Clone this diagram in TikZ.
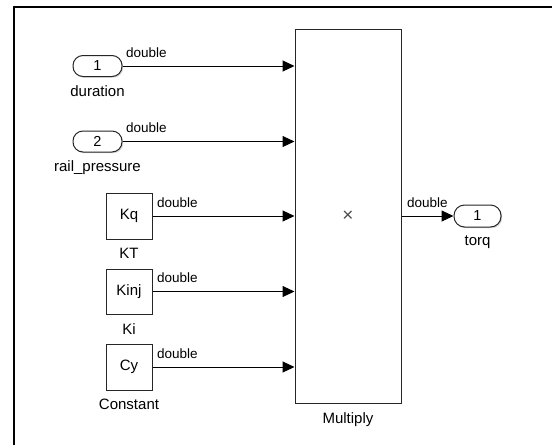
\documentclass[tikz,border=0pt]{standalone}
\usepackage{fontspec}
\setmainfont{Liberation Sans}
\usetikzlibrary{arrows.meta,shadows}
\begin{document}
\begin{tikzpicture}[x=1pt,y=-1pt,
  blk/.style={draw=black!85, line width=1pt, fill=white, drop shadow={shadow xshift=1.2pt, shadow yshift=-1.2pt, opacity=0.35}, inner sep=0pt},
  port/.style={blk, rounded corners=10pt, minimum width=49pt, minimum height=21pt, font=\fontsize{14.5}{16}\selectfont},
  cst/.style={blk, minimum width=46pt, minimum height=46pt, font=\fontsize{15}{17}\selectfont},
  nm/.style={anchor=north, inner sep=0pt, font=\fontsize{15}{17}\selectfont},
  sig/.style={anchor=south west, inner sep=0pt, font=\fontsize{13.5}{15}\selectfont},
  wire/.style={line width=1pt, -{Triangle[length=12pt,width=11pt]}}
]
\useasboundingbox (0,0) rectangle (552,445);
\draw[line width=2pt] (14,445) -- (14,7) -- (552,7);

\node[blk, minimum width=106pt, minimum height=374pt, font=\fontsize{19}{21}\selectfont, text=black!70] (mul) at (348,216) {×};
\node[nm] (muln) at ([yshift=-9pt]mul.south) {Multiply};

\node[port] (in1) at (97.5,66) {1};
\node[nm] (in1n) at ([yshift=-8pt]in1.south) {duration};
\node[port] (in2) at (97.5,141.5) {2};
\node[nm] (in2n) at ([yshift=-8pt]in2.south) {rail\_pressure};

\node[cst] (kt) at (129,216) {Kq};
\node[nm] (ktn) at ([yshift=-8pt]kt.south) {KT};
\node[cst, minimum height=45pt] (ki) at (129,291.5) {Kinj};
\node[nm] (kin) at ([yshift=-9pt]ki.south) {Ki};
\node[cst] (cy) at (129,367) {Cy};
\node[nm] (cyn) at ([yshift=-8pt]cy.south) {Constant};

\node[port, minimum width=47pt, minimum height=22pt, rounded corners=10.5pt] (out) at (477.5,216) {1};
\node[nm] (outn) at ([yshift=-8pt]out.south) {torq};

\draw[wire] (in1.east) -- (in1.east -| mul.west) node[sig, pos=0, xshift=3pt, yshift=8pt] {double};
\draw[wire] (in2.east) -- (in2.east -| mul.west) node[sig, pos=0, xshift=3pt, yshift=8pt] {double};
\draw[wire] (kt.east) -- (kt.east -| mul.west) node[sig, pos=0, xshift=4pt, yshift=8pt] {double};
\draw[wire] (ki.east) -- (ki.east -| mul.west) node[sig, pos=0, xshift=4pt, yshift=8pt] {double};
\draw[wire] (cy.east) -- (cy.east -| mul.west) node[sig, pos=0, xshift=4pt, yshift=8pt] {double};
\draw[wire] (mul.east |- out.west) -- (out.west) node[sig, pos=0, xshift=5pt, yshift=8pt] {double};
\end{tikzpicture}
\end{document}
